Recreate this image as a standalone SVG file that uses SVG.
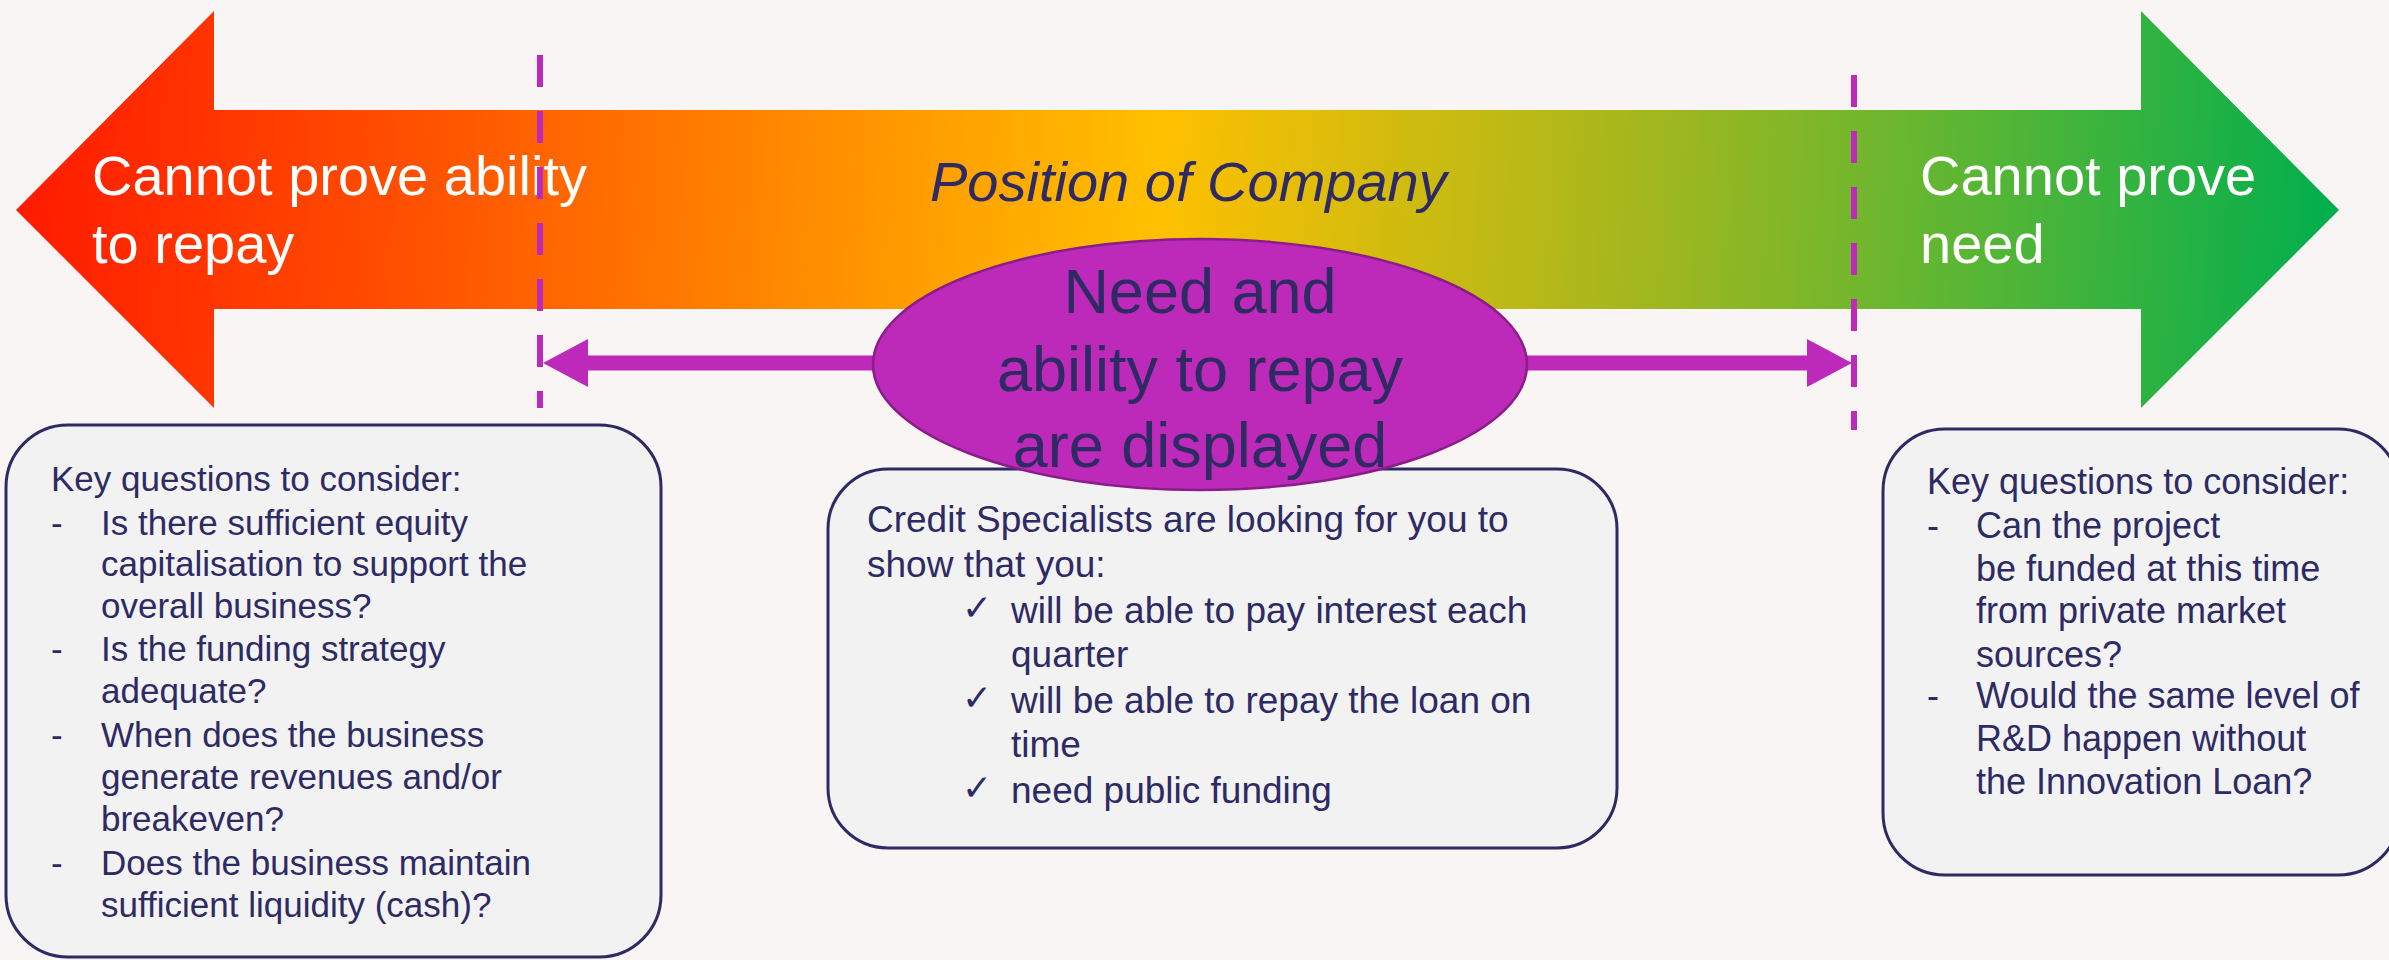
<svg xmlns="http://www.w3.org/2000/svg" width="2389" height="960" viewBox="0 0 2389 960">
<style>
.bg{fill:#F8F5F4}
.arrowtxt{font-family:"Liberation Sans",Arial,sans-serif;font-size:56px;fill:#FFFFFF}
.title{font-family:"Liberation Sans",Arial,sans-serif;font-size:56px;font-style:italic;fill:#2E2A63}
.ell{fill:#BD2ABA;stroke:#8A1D88;stroke-width:2.5}
.elltxt{font-family:"Liberation Sans",Arial,sans-serif;font-size:63px;fill:#2E2A63;text-anchor:middle}
.box{fill:#F2F2F2;stroke:#2E2A63;stroke-width:3}
.bt{font-family:"Liberation Sans",Arial,sans-serif;font-size:36px;fill:#2E2A63}
.lt{font-family:"Liberation Sans",Arial,sans-serif;font-size:35px;fill:#2E2A63}
.ct{font-family:"Liberation Sans",Arial,sans-serif;font-size:37px;fill:#2E2A63}
.chk{font-family:"DejaVu Sans",sans-serif;font-size:36px;fill:#2E2A63}
.dash{stroke:#BD2ABA;stroke-width:6;stroke-dasharray:32 24;fill:none}
.bar{stroke:#BD2ABA;stroke-width:15;fill:none}
</style>
<defs>
<linearGradient id="grad" gradientUnits="userSpaceOnUse" x1="16" y1="150" x2="2339" y2="270">
<stop offset="0" stop-color="#FF1A00"/>
<stop offset="0.17" stop-color="#FF5000"/>
<stop offset="0.34" stop-color="#FF8C00"/>
<stop offset="0.49" stop-color="#FFC000"/>
<stop offset="0.70" stop-color="#A3B71E"/>
<stop offset="0.84" stop-color="#5AB634"/>
<stop offset="1" stop-color="#00AE4E"/>
</linearGradient>
<marker id="head" viewBox="0 0 45 48" markerUnits="userSpaceOnUse" markerWidth="45" markerHeight="48" refX="1" refY="24" orient="auto-start-reverse">
<path d="M0,0 L45,24 L0,48 Z" fill="#BD2ABA"/>
</marker>
</defs>
<rect class="bg" x="0" y="0" width="2389" height="960"/>

<g id="position-arrow">
<polygon points="16,210 214,11 214,110 2141,110 2141,11 2339,210 2141,408 2141,309 214,309 214,408" fill="url(#grad)"/>
<text class="arrowtxt" x="92" y="195">Cannot prove ability</text>
<text class="arrowtxt" x="92" y="263">to repay</text>
<text class="arrowtxt" x="1920" y="195">Cannot prove</text>
<text class="arrowtxt" x="1920" y="263">need</text>
<text class="title" x="930" y="201">Position of Company</text>
</g>

<g id="connectors">
<line class="dash" x1="540" y1="55" x2="540" y2="408"/>
<line class="dash" x1="1854" y1="75" x2="1854" y2="430"/>
<path class="bar" d="M587,363 L1808,363" marker-start="url(#head)" marker-end="url(#head)"/>
</g>

<g id="left-box">
<rect class="box" x="6" y="425" width="655" height="532" rx="62" ry="62"/>
<text class="lt" x="51" y="491">Key questions to consider:</text>
<text class="lt" x="51" y="535">-</text>
<text class="lt" x="101" y="535">Is there sufficient equity</text>
<text class="lt" x="101" y="576">capitalisation to support the</text>
<text class="lt" x="101" y="618">overall business?</text>
<text class="lt" x="51" y="661">-</text>
<text class="lt" x="101" y="661">Is the funding strategy</text>
<text class="lt" x="101" y="703">adequate?</text>
<text class="lt" x="51" y="747">-</text>
<text class="lt" x="101" y="747">When does the business</text>
<text class="lt" x="101" y="789">generate revenues and/or</text>
<text class="lt" x="101" y="831">breakeven?</text>
<text class="lt" x="51" y="875">-</text>
<text class="lt" x="101" y="875">Does the business maintain</text>
<text class="lt" x="101" y="917">sufficient liquidity (cash)?</text>
</g>

<g id="center-box">
<rect class="box" x="828" y="469" width="789" height="379" rx="60" ry="60"/>
<text class="ct" x="867" y="532">Credit Specialists are looking for you to</text>
<text class="ct" x="867" y="577">show that you:</text>
<text class="chk" x="962" y="620">✓</text>
<text class="ct" x="1011" y="623">will be able to pay interest each</text>
<text class="ct" x="1011" y="667">quarter</text>
<text class="chk" x="962" y="710">✓</text>
<text class="ct" x="1011" y="713">will be able to repay the loan on</text>
<text class="ct" x="1011" y="757">time</text>
<text class="chk" x="962" y="800">✓</text>
<text class="ct" x="1011" y="803">need public funding</text>
</g>

<g id="ellipse-node">
<ellipse class="ell" cx="1200" cy="364.5" rx="327" ry="125.5"/>
<text class="elltxt" x="1200" y="313">Need and</text>
<text class="elltxt" x="1200" y="391">ability to repay</text>
<text class="elltxt" x="1200" y="467">are displayed</text>
</g>

<g id="right-box">
<rect class="box" x="1883" y="429" width="517" height="446" rx="62" ry="62"/>
<text class="bt" x="1927" y="494">Key questions to consider:</text>
<text class="bt" x="1927" y="538">-</text>
<text class="bt" x="1976" y="538">Can the project</text>
<text class="bt" x="1976" y="581">be funded at this time</text>
<text class="bt" x="1976" y="623">from private market</text>
<text class="bt" x="1976" y="667">sources?</text>
<text class="bt" x="1927" y="708">-</text>
<text class="bt" x="1976" y="708">Would the same level of</text>
<text class="bt" x="1976" y="751">R&amp;D happen without</text>
<text class="bt" x="1976" y="794">the Innovation Loan?</text>
</g>
</svg>
